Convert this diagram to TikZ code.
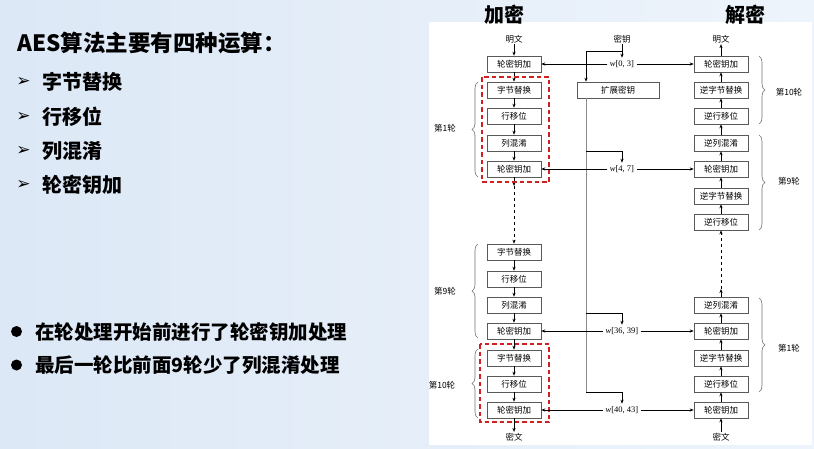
\documentclass[tikz,border=0pt]{standalone}
\usepackage{fontspec}
\setmainfont{Liberation Serif}
\newfontfamily\cjk{Noto Sans CJK SC}
\newfontfamily\dejavu{DejaVu Sans}
\usetikzlibrary{arrows.meta,decorations.pathreplacing,calc}

\definecolor{slideL}{HTML}{DCE8F6}
\definecolor{slideR}{HTML}{EEF4FB}
\definecolor{framered}{HTML}{D02020}

\begin{document}
\begin{tikzpicture}[x=1pt,y=-1pt,
  stepbox/.style={draw=black!65, line width=0.6pt, fill=white,
    minimum width=54pt, minimum height=16pt, inner sep=0pt,
    font=\cjk\fontsize{8.5}{9}\selectfont},
  lbl/.style={font=\cjk\fontsize{8.5}{9}\selectfont, inner sep=1pt},
  wl/.style={font=\fontsize{8.5}{9}\selectfont, inner sep=2.5pt},
  arr/.style={-{Stealth[length=4pt,width=3.2pt]}, line width=0.6pt, black},
  trunk/.style={line width=0.7pt, black!45},
  rnd/.style={decorate, decoration={brace, amplitude=6pt}, draw=black!55, line width=0.6pt},
  redbox/.style={draw=framered, dash pattern=on 4.5pt off 3pt, line width=1.3pt},
  head/.style={font=\cjk\bfseries\fontsize{20}{22}\selectfont, inner sep=0pt, anchor=base},
  bigtxt/.style={font=\cjk\bfseries\fontsize{20}{22}\selectfont, inner sep=0pt, anchor=base west},
  smalltxt/.style={font=\cjk\bfseries\fontsize{19.5}{21}\selectfont, inner sep=0pt, anchor=base west},
  marker/.style={font=\dejavu\bfseries\fontsize{17}{17}\selectfont, inner sep=0pt},
]
\useasboundingbox (0,0) rectangle (814,448);

% slide background and white figure panel
\shade[left color=slideL, right color=slideR] (0,0) rectangle (814,448);
\fill[white] (429,22) rectangle (812,445);

% ---------- left-hand text ----------
\node[font=\cjk\bfseries\fontsize{22.5}{24}\selectfont, inner sep=0pt, anchor=base west]
  (title) at (17,51.5) {AES算法主要有四种运算：};

\node[marker] (m1) at (23.5,82) {➢};
\node[marker] (m2) at (23.5,117) {➢};
\node[marker] (m3) at (23.5,151) {➢};
\node[marker] (m4) at (23.5,185) {➢};
\node[bigtxt] (t1) at (42,89.6) {字节替换};
\node[bigtxt] (t2) at (42,124.6) {行移位};
\node[bigtxt] (t3) at (42,158.6) {列混淆};
\node[bigtxt] (t4) at (42,192.6) {轮密钥加};

\node[circle, fill=black, inner sep=0pt, minimum size=11pt] (b1dot) at (16.5,331.5) {};
\node[circle, fill=black, inner sep=0pt, minimum size=11pt] (b2dot) at (16.5,365) {};
\node[smalltxt] (s1) at (35,339) {在轮处理开始前进行了轮密钥加处理};
\node[smalltxt] (s2) at (35,372.4) {最后一轮比前面9轮少了列混淆处理};

% ---------- column headings ----------
\node[head] (hEnc) at (504,22) {加密};
\node[head] (hDec) at (745,22) {解密};

% ---------- encryption column ----------
\node[lbl] (ept) at (514,39) {明文};
\node[stepbox] (e0) at (514,64) {轮密钥加};
\node[stepbox] (e1) at (514,90) {字节替换};
\node[stepbox] (e2) at (514,116) {行移位};
\node[stepbox] (e3) at (514,143) {列混淆};
\node[stepbox] (e4) at (514,169) {轮密钥加};
\node[stepbox] (e5) at (514,252) {字节替换};
\node[stepbox] (e6) at (514,279) {行移位};
\node[stepbox] (e7) at (514,305) {列混淆};
\node[stepbox] (e8) at (514,331) {轮密钥加};
\node[stepbox] (e9) at (514,358) {字节替换};
\node[stepbox] (e10) at (514,384) {行移位};
\node[stepbox] (e11) at (514,410) {轮密钥加};
\node[lbl] (ect) at (514,437) {密文};
\coordinate (egap) at (514,186);

\draw[arr] (ept) -- (e0);
\draw[arr] (e0) -- (e1);
\draw[arr] (e1) -- (e2);
\draw[arr] (e2) -- (e3);
\draw[arr] (e3) -- (e4);
\draw[arr] (e4) -- (egap);
\draw[arr, dashed] (egap) -- (e5);
\draw[arr] (e5) -- (e6);
\draw[arr] (e6) -- (e7);
\draw[arr] (e7) -- (e8);
\draw[arr] (e8) -- (e9);
\draw[arr] (e9) -- (e10);
\draw[arr] (e10) -- (e11);
\draw[arr] (e11) -- (ect);

% highlighted rounds
\draw[redbox] (482,77) rectangle (549,182);
\draw[redbox] (480,344) rectangle (549,422);

% round braces, encryption side
\draw[rnd] (478,177) -- (478,82);
\draw[rnd] (478,338) -- (478,244);
\draw[rnd] (478,418) -- (478,349);
\node[lbl] (er1) at (445,128) {第1轮};
\node[lbl] (er9) at (445,291) {第9轮};
\node[lbl] (er10) at (442,385) {第10轮};

% ---------- decryption column ----------
\node[lbl] (dpt) at (721,39) {明文};
\node[stepbox] (d1) at (721,64) {轮密钥加};
\node[stepbox] (d2) at (721,90) {逆字节替换};
\node[stepbox] (d3) at (721,116) {逆行移位};
\node[stepbox] (d4) at (721,143) {逆列混淆};
\node[stepbox] (d5) at (721,169) {轮密钥加};
\node[stepbox] (d6) at (721,196) {逆字节替换};
\node[stepbox] (d7) at (721,222) {逆行移位};
\node[stepbox] (d8) at (721,305) {逆列混淆};
\node[stepbox] (d9) at (721,331) {轮密钥加};
\node[stepbox] (d10) at (721,358) {逆字节替换};
\node[stepbox] (d11) at (721,384) {逆行移位};
\node[stepbox] (d12) at (721,410) {轮密钥加};
\node[lbl] (dct) at (721,437) {密文};
\coordinate (dgap) at (721,289);

\draw[arr] (d1) -- (dpt);
\draw[arr] (d2) -- (d1);
\draw[arr] (d3) -- (d2);
\draw[arr] (d4) -- (d3);
\draw[arr] (d5) -- (d4);
\draw[arr] (d6) -- (d5);
\draw[arr] (d7) -- (d6);
\draw[arr] (d8) -- (dgap);
\draw[arr, dashed] (dgap) -- (d7);
\draw[arr] (d9) -- (d8);
\draw[arr] (d10) -- (d9);
\draw[arr] (d11) -- (d10);
\draw[arr] (d12) -- (d11);
\draw[arr] (dct) -- (d12);

% round braces, decryption side
\draw[rnd] (759,56) -- (759,124);
\draw[rnd] (759,135) -- (759,230);
\draw[rnd] (759,298) -- (759,392);
\node[lbl] (dr10) at (789,92) {第10轮};
\node[lbl] (dr9) at (789,181) {第9轮};
\node[lbl] (dr1) at (789,348) {第1轮};

% ---------- key schedule ----------
\node[lbl] (key) at (622,39) {密钥};
\node[stepbox, minimum width=82pt] (kexp) at (618,90) {扩展密钥};
\node[wl] (w0) at (622,64) {\textit{w}[0, 3]};
\node[wl] (w1) at (622,169) {\textit{w}[4, 7]};
\node[wl] (w2) at (622,331) {\textit{w}[36, 39]};
\node[wl] (w3) at (622,410) {\textit{w}[40, 43]};
\coordinate (j0) at (622,51);
\coordinate (t0) at (586,51);
\coordinate (k1) at (586,151);
\coordinate (k2) at (586,313);
\coordinate (k3) at (586,392);

\draw[trunk] (t0 |- kexp.south) -- (k3);
\draw[arr] (key) -- (w0);
\draw[line width=0.6pt] (j0) -- (t0);
\draw[arr] (t0) -- (t0 |- kexp.north);
\draw[arr] (k1) -| (w1.north);
\draw[arr] (k2) -| (w2.north);
\draw[arr] (k3) -| (w3.north);

\draw[arr] (w0.west) -- (e0.east);
\draw[arr] (w0.east) -- (d1.west);
\draw[arr] (w1.west) -- (e4.east);
\draw[arr] (w1.east) -- (d5.west);
\draw[arr] (w2.west) -- (e8.east);
\draw[arr] (w2.east) -- (d9.west);
\draw[arr] (w3.west) -- (e11.east);
\draw[arr] (w3.east) -- (d12.west);
\end{tikzpicture}
\end{document}
